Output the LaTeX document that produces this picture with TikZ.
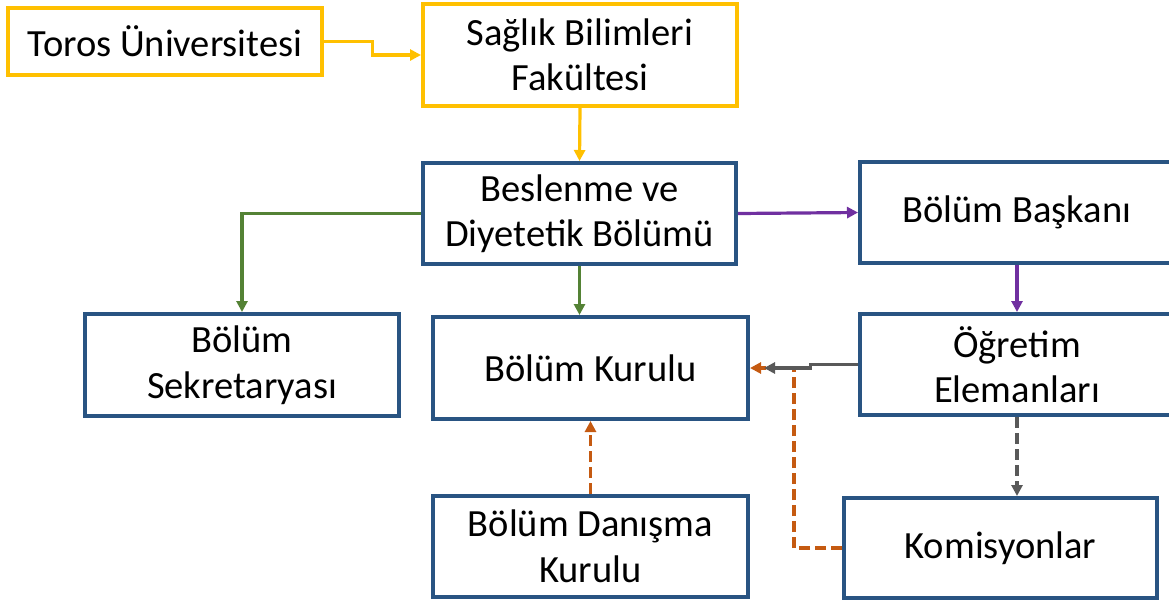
\documentclass[tikz,border=0pt]{standalone}
\usepackage{fontspec}
\setmainfont{Carlito}
\usetikzlibrary{arrows.meta,calc}
\definecolor{boxblue}{RGB}{41,84,130}
\definecolor{boxyellow}{RGB}{255,192,0}
\definecolor{lgreen}{RGB}{84,130,53}
\definecolor{lpurple}{RGB}{112,48,160}
\definecolor{lorange}{RGB}{197,90,17}
\definecolor{lgray}{RGB}{89,89,89}
\begin{document}
\begin{tikzpicture}[x=1pt,y=-1pt,
  box/.style={draw=boxblue,line width=4pt,fill=white,align=center,inner sep=0pt,
    font=\fontsize{38.5}{45.5}\selectfont,text=black},
  ybox/.style={box,draw=boxyellow},
  conn/.style={line width=3.2pt,-{Triangle[length=11pt,width=11pt]}},
  dsh/.style={dash pattern=on 11pt off 5pt}]
\useasboundingbox (0,0) rectangle (1169,603);
\node[ybox,minimum width=314pt,minimum height=67pt] (toros) at (165,41.5) {Toros Üniversitesi};
\node[ybox,minimum width=314pt,minimum height=102pt] (saglik) at (580,55) {Sağlık Bilimleri\\Fakültesi};
\node[box,minimum width=313pt,minimum height=101pt] (beslenme) at (579.5,213.5) {Beslenme ve\\Diyetetik Bölümü};
\node[box,minimum width=314pt,minimum height=101pt] (baskani) at (1017,212.5) {Bölüm Başkanı};
\node[box,minimum width=314pt,minimum height=102pt] (sekreter) at (242,365) {Bölüm\\Sekretaryası};
\node[box,minimum width=315pt,minimum height=102pt] (kurulu) at (590.5,368) {Bölüm Kurulu};
\node[box,minimum width=314pt,minimum height=101pt] (ogretim) at (1017,364.5) {Öğretim\\Elemanları};
\node[box,minimum width=315pt,minimum height=101pt] (danisma) at (590.5,546.5) {Bölüm Danışma\\Kurulu};
\node[box,minimum width=313pt,minimum height=100pt] (komisyon) at (1000.5,548) {Komisyonlar};
\coordinate (m1) at ($(toros.east)!.5!(saglik.west)$);
\draw[conn,boxyellow] (toros.east) -| (m1) |- (saglik.west);
\draw[conn,boxyellow] (saglik.south) -- (beslenme.north);
\draw[conn,lpurple] (beslenme.east) -- (baskani.west);
\draw[conn,lpurple] (baskani.south) -- (ogretim.north);
\draw[conn,lgreen] (beslenme.west) -| (sekreter.north);
\draw[conn,lgreen] (beslenme.south) -- (beslenme.south |- kurulu.north);
\draw[conn,lorange,dsh] (danisma.north) -- (danisma.north |- kurulu.south);
\draw[conn,lorange,dsh] (komisyon.west) -- ++(-48,0) |- (kurulu.east);
\coordinate (m2) at ($(ogretim.west)!.44!(kurulu.east)$);
\draw[conn,lgray,shorten >=14pt] (ogretim.west) -| (m2) |- (kurulu.east);
\draw[conn,lgray,dsh] (ogretim.south) -- (ogretim.south |- komisyon.north);
\end{tikzpicture}
\end{document}
